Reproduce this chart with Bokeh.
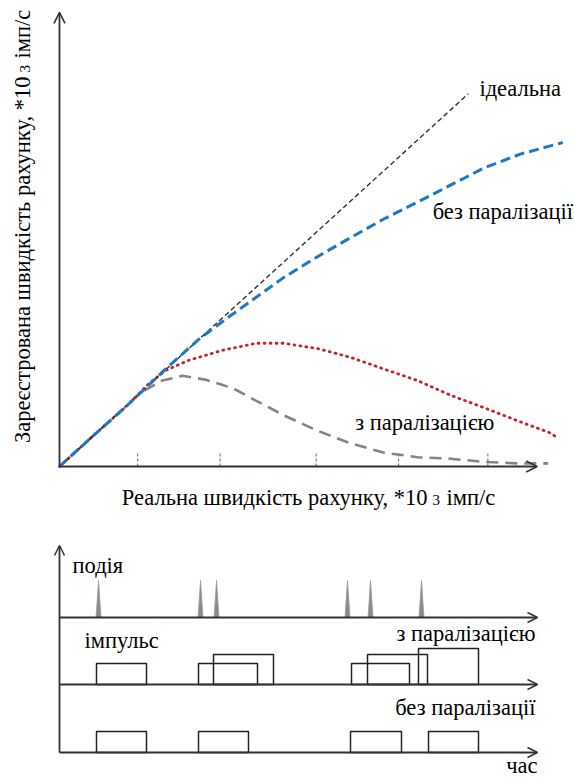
from bokeh.plotting import figure
from bokeh.layouts import column
from bokeh.models import Range1d, Arrow, OpenHead
from bokeh.core.properties import value
from bokeh.embed import file_html
from bokeh.resources import INLINE

# ---------------- count-rate characteristics (*10^3 imp/s) ----------------
ideal_x = [0.0, 4.81]
ideal_y = [0.0, 4.81]

# non-paralysable detector
nonpar_x = [0.0, 0.39, 0.78, 1.27, 1.66, 1.98, 2.31, 2.64, 3.04, 3.42, 3.81, 4.21, 4.60, 4.99, 5.42, 5.92]
nonpar_y = [0.0, 0.39, 0.77, 1.28, 1.66, 1.92, 2.18, 2.44, 2.71, 2.95, 3.19, 3.41, 3.63, 3.85, 4.03, 4.18]

# paralysable detector, shorter dead time
par_short_x = [0.0, 0.39, 0.78, 0.89, 1.05, 1.25, 1.52, 1.92, 2.31, 2.64, 3.04, 3.42, 3.81, 4.21, 4.60, 4.99, 5.39, 5.78, 5.87]
par_short_y = [0.0, 0.39, 0.77, 0.89, 1.07, 1.24, 1.37, 1.50, 1.59, 1.59, 1.52, 1.41, 1.26, 1.11, 0.92, 0.76, 0.59, 0.43, 0.36]

# paralysable detector, longer dead time
par_long_x = [0.0, 0.39, 0.78, 0.95, 1.21, 1.45, 1.72, 2.04, 2.31, 2.64, 3.04, 3.42, 3.81, 4.21, 4.60, 4.99, 5.39, 5.75]
par_long_y = [0.0, 0.39, 0.77, 0.95, 1.11, 1.17, 1.12, 1.01, 0.85, 0.66, 0.46, 0.30, 0.18, 0.12, 0.10, 0.06, 0.04, 0.04]

tick_x = [0.92, 1.89, 3.02, 3.99, 5.04]

# ---------------- timing diagram ----------------
event_t = [3.9, 14.1, 15.7, 28.8, 31.1, 36.2]
event_amp = 37

par_start = [3.7, 13.9, 15.4, 29.2, 30.8, 35.9]
par_end = [8.7, 19.8, 21.4, 35.0, 36.8, 41.9]
par_amp = [21, 21, 30, 21, 30, 36]

nonpar_start = [3.7, 13.9, 29.1, 36.9]
nonpar_end = [8.7, 18.9, 34.2, 41.9]
nonpar_amp = [21, 21, 21, 21]

FONT = value("Liberation Serif")
FSIZE = "22.5px"
FSMALL = "15px"
AXIS = "#333333"


def label(fig, x, y, txt, size=FSIZE, align="left", angle=0.0):
    fig.text(x=[x], y=[y], text=[txt], angle=angle, text_font=FONT,
             text_font_size=size, text_align=align, text_baseline="middle",
             text_color="black")


# ======================= upper chart =======================
top = figure(width=574, height=530, x_range=Range1d(-0.694, 6.059),
             y_range=Range1d(-0.826, 6.013), x_axis_type=None, y_axis_type=None,
             toolbar_location=None, output_backend="svg", min_border=0)
top.grid.visible = False
top.outline_line_color = None

top.add_layout(Arrow(end=OpenHead(size=11, line_color=AXIS, line_width=1.6),
                     x_start=0, y_start=0, x_end=0, y_end=5.86,
                     line_color=AXIS, line_width=1.8))
top.add_layout(Arrow(end=OpenHead(size=11, line_color=AXIS, line_width=1.6),
                     x_start=0, y_start=0, x_end=5.62, y_end=0,
                     line_color=AXIS, line_width=1.8))
top.segment(x0=tick_x, y0=[0] * len(tick_x), x1=tick_x, y1=[0.17] * len(tick_x),
            line_color="#666666", line_width=1, line_dash="3 2")

top.line(par_long_x, par_long_y, line_color="#858585", line_width=2.6, line_dash="12 7")
top.line(par_short_x, par_short_y, line_color="#c0262c", line_width=2.8,
         line_dash="1 5", line_cap="round")
top.line(ideal_x, ideal_y, line_color="#333333", line_width=1.4, line_dash="5 3")
top.line(nonpar_x, nonpar_y, line_color="#1f78c4", line_width=3, line_dash="10 5")

label(top, 4.94, 4.877, "ідеальна")
label(top, 4.39, 3.29, "без паралізації")
label(top, 3.48, 0.568, "з паралізацією")

# x-axis title with a reduced exponent digit
label(top, 4.329, -0.40, "Реальна швидкість рахунку, *10", align="right")
label(top, 4.388, -0.432, "3", size=FSMALL)
label(top, 4.553, -0.40, "імп/с")

# y-axis title, rotated, same construction
label(top, -0.435, 5.032, "Зареєстрована швидкість рахунку, *10", align="right", angle=1.5708)
label(top, -0.406, 5.084, "3", size=FSMALL, angle=1.5708)
label(top, -0.435, 5.265, "імп/с", angle=1.5708)

# ======================= timing diagram =======================
bot = figure(width=574, height=249, x_range=Range1d(-5.9, 51.5), y_range=Range1d(-27, 222),
             x_axis_type=None, y_axis_type=None, toolbar_location=None,
             output_backend="svg", min_border=0)
bot.grid.visible = False
bot.outline_line_color = None

LANE_EVENT, LANE_PAR, LANE_NONPAR = 135, 68, 0
T_END = 47.8

bot.add_layout(Arrow(end=OpenHead(size=10, line_color=AXIS, line_width=1.5),
                     x_start=0, y_start=0, x_end=0, y_end=207,
                     line_color=AXIS, line_width=1.8))
for lane in (LANE_EVENT, LANE_PAR, LANE_NONPAR):
    bot.add_layout(Arrow(end=OpenHead(size=10, line_color=AXIS, line_width=1.5),
                         x_start=0, y_start=lane, x_end=T_END, y_end=lane,
                         line_color=AXIS, line_width=1.8))

# event spikes
half = 0.25
bot.patches(xs=[[t - half, t, t + half] for t in event_t],
            ys=[[LANE_EVENT, LANE_EVENT + event_amp, LANE_EVENT] for _ in event_t],
            fill_color="#8a8a8a", line_color="#9a9a9a", line_width=0.8)

# output pulses
bot.quad(left=par_start, right=par_end, bottom=[LANE_PAR] * len(par_start),
         top=[LANE_PAR + a for a in par_amp], fill_alpha=0,
         line_color="#222222", line_width=1.5)
bot.quad(left=nonpar_start, right=nonpar_end, bottom=[LANE_NONPAR] * len(nonpar_start),
         top=[LANE_NONPAR + a for a in nonpar_amp], fill_alpha=0,
         line_color="#222222", line_width=1.5)

label(bot, 1.3, 187, "подія")
label(bot, 2.5, 112, "імпульс")
label(bot, 47.6, 119, "з паралізацією", align="right")
label(bot, 47.6, 45, "без паралізації", align="right")
label(bot, 47.8, -13, "час", align="right")

layout = column(top, bot, spacing=0)
open("out.html", "w").write(file_html(layout, INLINE))
